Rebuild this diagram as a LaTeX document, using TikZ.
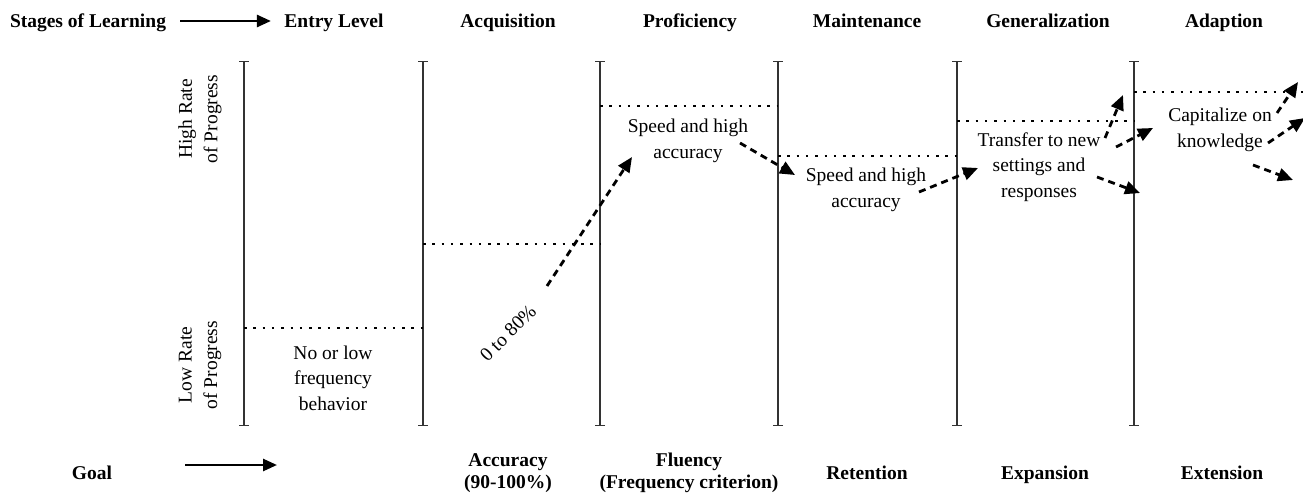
\documentclass[tikz,border=0pt]{standalone}
\usepackage{fontspec}
\setmainfont{Liberation Serif}
\usetikzlibrary{arrows.meta}
\usetikzlibrary{positioning}

\tikzset{
    colline/.style={line width=1.4pt, draw=black!80, {Bar[width=10pt]}-{Bar[width=10pt]}},
    level/.style={line width=2.5pt, dash pattern=on 2.5pt off 6.8pt},
    bigarrow/.style={line width=2.6pt, -{Triangle[length=14pt, width=12pt]}},
    trend/.style={line width=2.8pt, dash pattern=on 7pt off 5pt, -{Triangle[length=15pt, width=13pt]}},
    boldtext/.style={font=\fontsize{19.5}{22}\selectfont\bfseries, align=center},
    plaintext/.style={font=\fontsize{19.5}{25.5}\selectfont, align=center}
}

\begin{document}
\begin{tikzpicture}[x=1pt, y=-1pt]
        \useasboundingbox (0,0) rectangle (1303,495);
        \begin{scope}[every node/.style={boldtext}]
            \node[anchor=base] (stages) at (88,28) {Stages of Learning};
            \node[anchor=base] (h0) at (334,28) {Entry Level};
            \node[anchor=base] (h1) at (508,28) {Acquisition};
            \node[anchor=base] (h2) at (690,28) {Proficiency};
            \node[anchor=base] (h3) at (867,28) {Maintenance};
            \node[anchor=base] (h4) at (1048,28) {Generalization};
            \node[anchor=base] (h5) at (1224,28) {Adaption};
            \node[anchor=base] (goal) at (92,479) {Goal};
            \node (g1) at (508,473) {Accuracy\\(90-100\%)};
            \node (g2) at (689,473) {Fluency\\(Frequency criterion)};
            \node[anchor=base] (g3) at (867,479) {Retention};
            \node[anchor=base] (g4) at (1045,479) {Expansion};
            \node[anchor=base] (g5) at (1222,479) {Extension};
        \end{scope}
        \coordinate (stagesarr) at (180,21);
        \coordinate (goalstart) at (185,465);
        \coordinate (goalend) at (277,465);
        \draw[bigarrow, shorten >=10pt] (stagesarr) -- (h0.west |- stagesarr);
        \draw[bigarrow] (goalstart) -- (goalend);
        \begin{scope}[every node/.style={plaintext}]
            \node[rotate=90] (high) at (200,119) {High Rate\\of Progress};
            \node[rotate=90] (low) at (200,365) {Low Rate\\of Progress};
            \node (t0) at (333,378) {No or low\\frequency\\behavior};
            \node[rotate=45] (t1) at (508,333) {0 to 80\%};
            \node (t2) at (688,141) {Speed and high\\accuracy};
            \node (t3) at (866,190) {Speed and high\\accuracy};
            \node (t4) at (1039,167) {Transfer to new\\settings and\\responses};
            \node (t5) at (1220,130) {Capitalize on\\knowledge};
        \end{scope}
        \coordinate (c0t) at (244,61);  \coordinate (c0b) at (244,426);
        \coordinate (c1t) at (423,61);  \coordinate (c1b) at (423,426);
        \coordinate (c2t) at (600,61);  \coordinate (c2b) at (600,426);
        \coordinate (c3t) at (778,61);  \coordinate (c3b) at (778,426);
        \coordinate (c4t) at (957,61);  \coordinate (c4b) at (957,426);
        \coordinate (c5t) at (1134,61); \coordinate (c5b) at (1134,426);
        \coordinate (c6t) at (1306,61);
        \draw[colline] (c0t) -- (c0b);
        \draw[colline] (c1t) -- (c1b);
        \draw[colline] (c2t) -- (c2b);
        \draw[colline] (c3t) -- (c3b);
        \draw[colline] (c4t) -- (c4b);
        \draw[colline] (c5t) -- (c5b);
        \draw[level] (c0t |- 0,328) -- (c1t |- 0,328);
        \draw[level] (c1t |- 0,244) -- (c2t |- 0,244);
        \draw[level] (c2t |- 0,106) -- (c3t |- 0,106);
        \draw[level] (c3t |- 0,156) -- (c4t |- 0,156);
        \draw[level] (c4t |- 0,121) -- (c5t |- 0,121);
        \draw[level] (c5t |- 0,92) -- (c6t |- 0,92);
        \coordinate (s1) at (547,286);  \coordinate (e1) at (632,157);
        \coordinate (s2) at (740,143);  \coordinate (e2) at (795,175);
        \coordinate (s3) at (919,192);  \coordinate (e3) at (978,168);
        \coordinate (s4) at (1105,138); \coordinate (e4) at (1123,95);
        \coordinate (s5) at (1116,147); \coordinate (e5) at (1153,128);
        \coordinate (s6) at (1097,177); \coordinate (e6) at (1140,193);
        \coordinate (s7) at (1277,113); \coordinate (e7) at (1298,82);
        \coordinate (s8) at (1268,143); \coordinate (e8) at (1305,118);
        \coordinate (s9) at (1253,165); \coordinate (e9) at (1293,180);
        \draw[trend] (s1) -- (e1);
        \draw[trend] (s2) -- (e2);
        \draw[trend] (s3) -- (e3);
        \draw[trend] (s4) -- (e4);
        \draw[trend] (s5) -- (e5);
        \draw[trend] (s6) -- (e6);
        \draw[trend] (s7) -- (e7);
        \draw[trend] (s8) -- (e8);
        \draw[trend] (s9) -- (e9);
\end{tikzpicture}
\end{document}
